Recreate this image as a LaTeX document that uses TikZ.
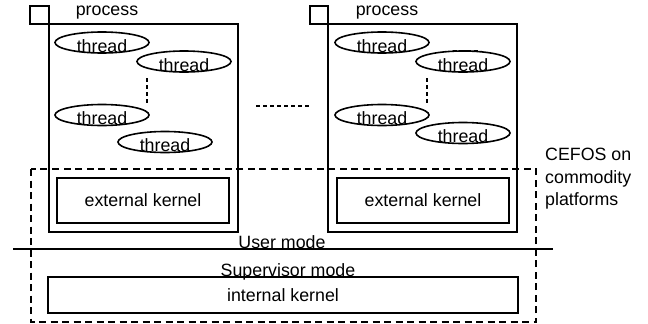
\documentclass[tikz,border=0pt]{standalone}
\usepackage{fontspec}
\setmainfont{Liberation Sans}
\usetikzlibrary{shapes.geometric}
\begin{document}
\begin{tikzpicture}[x=1pt,y=-1pt,
  every node/.style={font=\fontsize{17.8}{22.5}\selectfont, inner sep=0pt},
  box/.style={draw, line width=1.6pt},
  thr/.style={draw, ellipse, line width=1.6pt, minimum width=94pt, minimum height=21pt},
  dotline/.style={line width=1.6pt, dash pattern=on 4pt off 3pt},
  dashbox/.style={draw, line width=1.4pt, dash pattern=on 7pt off 4.5pt}]
\useasboundingbox (0,0) rectangle (648,324);

% left process
\draw[box] (30,6) rectangle (49,24);
\draw[box] (49,24) rectangle (238,232);
\node[anchor=base] (p1) at (107,16) {process};
\node[thr] (a1) at (102,42.5) {};
\node[thr] (a2) at (184,61.5) {};
\node[thr] (a3) at (102,115) {};
\node[thr] (a4) at (165,142) {};
\foreach \t in {a1,a2,a3,a4}
  \node at ([yshift=-3.5pt]\t.center) {thread};
\coordinate (a5) at (147,78);
\coordinate (a6) at (147,103);
\draw[dotline] (a5) -- (a6);
\node[box, minimum width=172pt, minimum height=45pt] (ek1) at (143,200.5) {external kernel};

% dots between the two processes
\coordinate (m1) at (256,106);
\coordinate (m2) at (311,106);
\draw[dotline] (m1) -- (m2);

% right process
\draw[box] (310,6) rectangle (328,24);
\draw[box] (328,24) rectangle (517,232);
\node[anchor=base] (p2) at (387,16) {process};
\node[thr] (b1) at (382,42.5) {};
\node[thr] (b2) at (463,61.5) {};
\node[thr] (b3) at (382,115) {};
\node[thr] (b4) at (463,133) {};
\foreach \t in {b1,b2,b3,b4}
  \node at ([yshift=-3.5pt]\t.center) {thread};
\coordinate (b5) at (427,78);
\coordinate (b6) at (427,103);
\draw[dotline] (b5) -- (b6);
\coordinate (b7) at (453,50.5);
\coordinate (b8) at (481,50.5);
\draw[dotline] (b7) -- (b8);
\node[box, minimum width=172pt, minimum height=45pt] (ek2) at (423,200.5) {external kernel};

% user / supervisor boundary
\coordinate (l1) at (13,249);
\coordinate (l2) at (553,249);
\draw[line width=1.6pt] (l1) -- (l2);
\node[anchor=base] (um) at (282,248.5) {User mode};
\node[anchor=base] (sm) at (288,276.5) {Supervisor mode};

% internal kernel
\node[box, minimum width=470pt, minimum height=36pt] (ik) at (283,295) {internal kernel};

% CEFOS region
\draw[dashbox] (31,169) rectangle (536,322);
\node[anchor=north west, align=left] (cf) at (545,148) {CEFOS on\\commodity\\platforms};
\end{tikzpicture}
\end{document}
